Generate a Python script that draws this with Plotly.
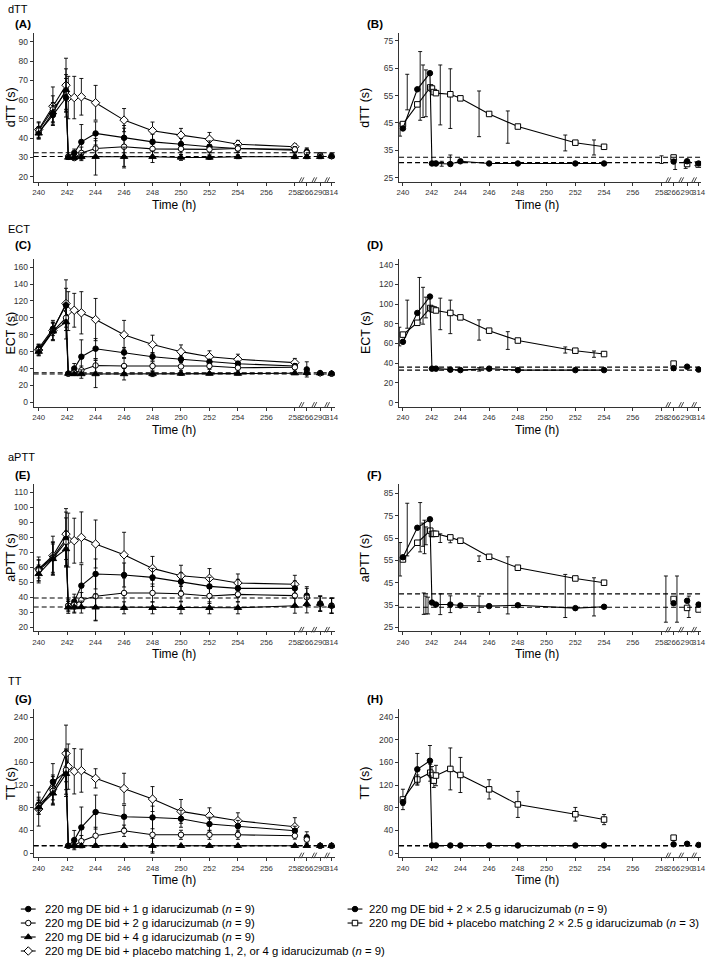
import numpy as np
import plotly.graph_objects as go

W, H = 709, 958

# broken time axis: hours up to 258 are linear, follow-up visits are compressed
tick_hours = [240, 242, 244, 246, 248, 250, 252, 254, 256, 258, 266, 290, 314]
break_hours = [258, 266, 290, 314]
break_pos = [258, 258.84, 259.78, 260.58]
break_marks = [258.4, 259.3, 260.2]

# ---- left panels (1, 2, 4 g idarucizumab and placebo) ----
t_left = [240, 241, 241.92, 242.08, 242.5, 243, 244, 246, 248, 250, 252, 254, 258, 266, 290, 314]

A_pbo = [44.5, 56.6, 67.5, 61.1, 61.1, 61.5, 58.4, 49.4, 43.9, 41.6, 39.5, 36.9, 35.6, None, None, None]
A_pbo_sd = [4, 10, 14, 11, 11, 9.5, 9, 6, 4.5, 3.5, 3.5, 2, 1.5, None, None, None]
A_1g = [43, 52, 61, 30.4, 32.4, 38.1, 42.5, 40.2, 38.1, 36.9, 35.6, 34.7, 33.8, 33, 31.2, 30.7]
A_1g_sd = [3, 5, 10, 1, 2, 9, 6, 5, 4, 3, 3, 2, 1.5, 2, 1, 1]
A_2g = [44, 55, 64, 30.4, 29.7, 32.4, 34.7, 35.6, 34.5, 34.5, 34.2, 34.7, 34.2, 32.5, 31, 30.7]
A_2g_sd = [4, 7, 9, 1, 1, 3, 4, 11, 4, 3, 2.5, 2, 1.5, 2, 1, 1]
A_4g = [42.5, 53.5, 65, 30, 30, 30.4, 30.4, 30.4, 30.4, 30, 30, 30.4, 30.4, 30.4, 30.4, 30.7]
A_4g_sd = [3, 5, 11, 1, 1, 2, 9.5, 5, 3, 1.5, 1, 1, 1, 1, 1, 1]
A_ref = [32.5, 30.5]

C_pbo = [62, 85, 117, 108, 109, 106, 98, 80, 68.5, 60, 54, 51, 47, None, None, None]
C_pbo_sd = [6, 12, 28, 23, 20, 25, 25, 17, 11, 8, 7, 6, 5, None, None, None]
C_1g = [64, 87, 115, 34, 40, 54, 63.5, 59, 54, 51, 48, 45.7, 43, 39, 34.5, 34]
C_1g_sd = [5, 8, 20, 1.5, 6, 20, 12, 6, 5, 4, 3, 3, 3, 9, 2, 1.5]
C_2g = [62, 84, 100, 34, 35, 38, 43.7, 43, 43, 42.5, 43, 41, 41.5, 35, 34.5, 34]
C_2g_sd = [6, 10, 15, 1.5, 2, 5, 8, 9, 5, 5, 4, 4, 3, 2, 1.5, 1.5]
C_4g = [60, 84, 95, 34, 33.5, 33.5, 33.5, 33.5, 33.5, 34, 34, 34, 34.5, 35, 34.5, 34]
C_4g_sd = [5, 10, 20, 1.5, 1.5, 5, 16, 7, 3, 2, 1.5, 1.5, 1.5, 2, 1.5, 1.5]
C_ref = [35, 33.5]

E_pbo = [58.9, 67.8, 82.2, 78.2, 77.8, 80, 75.6, 68.4, 59.3, 54.4, 52.7, 49.6, 48.7, None, None, None]
E_pbo_sd = [8, 13, 17, 18, 15, 17, 16, 15, 8, 7, 6.5, 6, 6, None, None, None]
E_1g = [58.9, 66.7, 78.9, 34.4, 37.1, 47.8, 55.6, 54.9, 53.3, 50.4, 47.3, 46, 46, 41.1, 35.8, 34.4]
E_1g_sd = [6, 10, 18, 3, 5, 14, 10, 8, 6, 6, 6, 6, 5, 6, 5, 5]
E_2g = [58, 66, 77, 34.4, 35.1, 38.2, 40.7, 42.9, 42.9, 42.4, 40.9, 42, 41.1, 40, 35.8, 34.4]
E_2g_sd = [7, 11, 16, 4, 5, 5, 16, 10, 6, 5, 5, 5, 6, 6, 5, 5]
E_4g = [55.6, 65.6, 72.2, 33.3, 33.5, 33.5, 33.3, 33, 33, 33, 33, 33, 34.4, 35.6, 35.8, 34.4]
E_4g_sd = [6, 10, 12, 4, 4, 4, 9, 4, 4, 4, 4, 4, 5, 6, 5, 5]
E_ref = [39.5, 33.5]

G_pbo = [77.8, 113, 176, 152.7, 144.5, 145.6, 132, 114, 95.5, 73.7, 66, 57.2, 46.6, None, None, None]
G_pbo_sd = [30, 25, 50, 40, 40, 38, 17, 27, 22, 21, 14, 14, 16, None, None, None]
G_1g = [85.5, 126, 144, 13, 23, 45.4, 72.5, 64.3, 63, 60.7, 51.3, 47.8, 39.5, 27.7, 13, 13]
G_1g_sd = [10, 32, 40, 1, 17, 36, 30, 20, 20, 15, 12, 10, 8, 10, 1, 1]
G_2g = [83.7, 110, 147, 13, 13, 21.2, 30.7, 39.5, 32.4, 32.4, 32.4, 32.4, 30.7, 24, 13, 13]
G_2g_sd = [15, 25, 35, 1, 1, 10, 15, 10, 30, 8, 8, 8, 6, 8, 1, 1]
G_4g = [80.8, 105.5, 140, 13, 13, 13, 13, 13, 13, 13, 13, 13, 13, 13, 13, 13]
G_4g_sd = [12, 20, 40, 1, 1, 1, 1, 1, 13, 1, 1, 1, 1, 1, 1, 1]
G_ref = [13.5, 12.5]

# ---- right panels (2 x 2.5 g idarucizumab and placebo) ----
t_act = [240, 241, 241.88, 242.02, 242.3, 243.3, 244, 246, 248, 252, 254, 266, 290, 314]
t_pbo = [240, 241, 241.9, 242.02, 242.15, 242.3, 243.3, 244, 246, 248, 252, 254, 266, 290, 314]

B_act = [43.0, 57.3, 63.2, 30.2, 30.2, 30.0, 31.0, 30.2, 30.2, 30.2, 30.2, 30.9, 31.0, 30.2]
B_pbo = [44.6, 51.8, 58.0, 57.6, 56.3, 55.9, 55.5, 54.0, 48.3, 43.7, 37.8, 36.3, 32.4, 30.0, 29.8]
B_err_t = [239.8, 240.3, 241.2, 241.4, 241.6, 242.25, 242.6, 242.7, 243.3, 243.3, 245.3, 247.3,
           251.3, 253.3, 258, 268.8, 287.4, 309.5]
B_err_lo = [40.2, 49.8, 46, 47, 47.3, 29.4, 44.3, 29.2, 43, 29.4, 40, 37.6, 34.8, 33.3, 30.2, 28, 28.4, 29.5]
B_err_hi = [45, 62.8, 71.1, 66.2, 64.4, 31, 66.2, 31, 64.8, 33.3, 56.7, 49.4, 40.6, 38.8, 33, 31.5, 31, 30.8]
B_ref = [32.5, 30.5]

D_act = [61.7, 91.0, 107.6, 34.5, 34.5, 33.4, 33.0, 34.5, 33.0, 33.0, 33.0, 35.0, 36.5, 33.5]
D_pbo = [69.0, 81.0, 96.0, 95.0, 94.5, 93.5, 91.0, 86.5, 73.0, 63.0, 52.7, 49.3, 39.6, None, None]
D_err_t = [239.75, 240.3, 241.15, 241.4, 241.6, 242.3, 242.6, 243.3, 243.3, 245.3, 245.3, 247.3, 251.3, 253.3]
D_err_lo = [57.6, 75.5, 81, 79.6, 86, 33, 74, 70, 32, 63.4, 32, 54, 50.3, 46]
D_err_hi = [76.5, 104, 127, 117, 107, 36, 106, 104, 35, 84, 35.5, 72, 56.5, 52.4]
D_ref = [36, 33]

F_act = [56.4, 69.6, 73.4, 36.1, 35.2, 35.2, 34.8, 34.5, 34.9, 33.6, 34.2, 35.8, 36.9, 35.2]
F_pbo = [55.4, 62.9, 68.3, 66.8, 66.9, 66.9, 65.3, 63.8, 56.6, 51.7, 46.9, 45.0, 37.7, 33.7, 33.0]
F_err_t = [239.8, 240.3, 241.2, 241.4, 241.5, 241.6, 241.45, 241.6, 241.75, 242.6, 242.6, 243.3, 243.3,
           245.3, 245.3, 247.3, 251.3, 253.3, 260.9, 272, 293.6]
F_err_lo = [48, 57, 58.8, 61.3, 58, 62, 30.8, 31, 31, 63, 30.7, 62.9, 31.6, 54.5, 31.7, 31, 29.4, 30.1,
            27.3, 27.3, 29.4]
F_err_hi = [63, 80.6, 80.9, 71.7, 73, 70, 40.4, 39, 38.5, 66.9, 40, 65.3, 39.1, 57, 39, 56.6, 48.7, 47.2,
            48, 48, 39]
F_ref = [40, 34]

H_act = [89.5, 148, 163, 13.6, 13.6, 13.6, 13.6, 13.6, 13.6, 13.6, 13.6, 15.5, 16.5, 14.5]
H_act_sd = [5, 28, 27, 1, 1, 1, 1, 1, 1, 1, 1, 1, 1, 1]
H_pbo = [94.8, 130, 142, 138, 128, 137, 148.7, 138, 112.6, 86, 68.7, 59.3, 27.3, None, None]
H_pbo_sd = [18, 8, 15, 15, 12, 18, 37, 31, 17, 23, 12, 9, 0, None, None]
H_ref = [13.5, 12.5]

legend_names = [
    "220 mg DE bid + 1 g idarucizumab (<i>n</i> = 9)",
    "220 mg DE bid + 2 g idarucizumab (<i>n</i> = 9)",
    "220 mg DE bid + 4 g idarucizumab (<i>n</i> = 9)",
    "220 mg DE bid + placebo matching 1, 2, or 4 g idarucizumab (<i>n</i> = 9)",
    "220 mg DE bid + 2 × 2.5 g idarucizumab (<i>n</i> = 9)",
    "220 mg DE bid + placebo matching 2 × 2.5 g idarucizumab (<i>n</i> = 3)",
]
legend_keys = ["1g", "2g", "4g", "pbo", "act", "pbo2"]

STYLE = {
    "1g": dict(symbol="circle", color="black", size=5.5),
    "2g": dict(symbol="circle", color="white", size=5.5),
    "4g": dict(symbol="triangle-up", color="black", size=6.5),
    "pbo": dict(symbol="diamond", color="white", size=6.5),
    "act": dict(symbol="circle", color="black", size=5.5),
    "pbo2": dict(symbol="square", color="white", size=5.5),
}


def arr(v):
    return np.array([np.nan if e is None else e for e in v], dtype=float)


def axis_pos(hours):
    h = np.asarray(hours, dtype=float)
    return np.where(h <= 258, h, np.interp(h, break_hours, break_pos))


def ax(n, kind):
    return kind if n == 1 else f"{kind}{n}"


def marker(key):
    s = STYLE[key]
    return dict(symbol=s["symbol"], color=s["color"], size=s["size"],
                line=dict(color="black", width=1))


fig = go.Figure()


def add_group(n, t, y, sd, key):
    t = np.asarray(t, dtype=float)
    y = arr(y)
    sd = arr(sd) if sd is not None else None
    ok = ~np.isnan(y)
    for mask, mode in (((t <= 258) & ok, "lines+markers"), ((t > 258) & ok, "markers")):
        if not mask.any():
            continue
        err = None
        if sd is not None:
            err = dict(type="data", array=sd[mask], visible=True, thickness=0.9, width=2, color="black")
        fig.add_trace(go.Scatter(
            x=axis_pos(t[mask]), y=y[mask], mode=mode,
            xaxis=ax(n, "x"), yaxis=ax(n, "y"),
            line=dict(color="black", width=1.1), marker=marker(key),
            error_y=err, showlegend=False, hoverinfo="skip",
        ))


def add_errors(n, t, lo, hi):
    lo, hi = np.asarray(lo, float), np.asarray(hi, float)
    fig.add_trace(go.Scatter(
        x=axis_pos(t), y=(lo + hi) / 2, mode="markers",
        xaxis=ax(n, "x"), yaxis=ax(n, "y"),
        marker=dict(size=1, color="rgba(0,0,0,0)"),
        error_y=dict(type="data", array=(hi - lo) / 2, visible=True, thickness=0.9, width=2, color="black"),
        showlegend=False, hoverinfo="skip",
    ))


# panel n: (letter, group label, side, row, y range, y ticks, y title, ref lines)
panels = [
    ("(A)", "dTT", 0, 0, [17.4, 94.6], list(range(20, 91, 10)), "dTT (s)", A_ref),
    ("(B)", None, 1, 0, [23.5, 77.9], list(range(25, 76, 10)), "dTT (s)", B_ref),
    ("(C)", "ECT", 0, 1, [-5, 170], list(range(0, 161, 20)), "ECT (s)", C_ref),
    ("(D)", None, 1, 1, [-4, 146], list(range(0, 141, 20)), "ECT (s)", D_ref),
    ("(E)", "aPTT", 0, 2, [17.3, 115.3], list(range(20, 111, 10)), "aPTT (s)", E_ref),
    ("(F)", None, 1, 2, [23.2, 89], list(range(25, 86, 10)), "aPTT (s)", F_ref),
    ("(G)", "TT", 0, 3, [-7, 254], list(range(0, 241, 40)), "TT (s)", G_ref),
    ("(H)", None, 1, 3, [-7, 254], list(range(0, 241, 40)), "TT (s)", H_ref),
]

left_groups = [
    [(A_pbo, A_pbo_sd, "pbo"), (A_1g, A_1g_sd, "1g"), (A_2g, A_2g_sd, "2g"), (A_4g, A_4g_sd, "4g")],
    [(C_pbo, C_pbo_sd, "pbo"), (C_1g, C_1g_sd, "1g"), (C_2g, C_2g_sd, "2g"), (C_4g, C_4g_sd, "4g")],
    [(E_pbo, E_pbo_sd, "pbo"), (E_1g, E_1g_sd, "1g"), (E_2g, E_2g_sd, "2g"), (E_4g, E_4g_sd, "4g")],
    [(G_pbo, G_pbo_sd, "pbo"), (G_1g, G_1g_sd, "1g"), (G_2g, G_2g_sd, "2g"), (G_4g, G_4g_sd, "4g")],
]
for i, groups in enumerate(left_groups):
    for y, sd, key in groups:
        add_group(2 * i + 1, t_left, y, sd, key)

add_errors(2, B_err_t, B_err_lo, B_err_hi)
add_group(2, t_pbo, B_pbo, None, "pbo2")
add_group(2, t_act, B_act, None, "act")
add_errors(4, D_err_t, D_err_lo, D_err_hi)
add_group(4, t_pbo, D_pbo, None, "pbo2")
add_group(4, t_act, D_act, None, "act")
add_errors(6, F_err_t, F_err_lo, F_err_hi)
add_group(6, t_pbo, F_pbo, None, "pbo2")
add_group(6, t_act, F_act, None, "act")
add_group(8, t_pbo, H_pbo, H_pbo_sd, "pbo2")
add_group(8, t_act, H_act, H_act_sd, "act")

# layout geometry (pixels)
x_dom_px = [(31, 335), (400, 705)]
x_rng = [[239.65, 260.8], [239.73, 260.75]]
rows_px = [(33, 182), (259, 407), (485, 632), (710, 858)]
group_y = [9, 229, 457, 682]
letter_y = [24, 245, 475, 700]
letter_x = [10, 366]
ytitle_x = [8, 366]
xtitle_x = [173, 539]


def px_x(v):
    return v / W


def px_y(v):
    return 1 - v / H


axis_common = dict(showline=True, linecolor="#333", linewidth=1.2, ticks="outside", ticklen=3,
                   tickwidth=1, tickcolor="#333", showgrid=False, zeroline=False,
                   tickfont=dict(size=8.5, color="#333"), fixedrange=True)

layout = {}
shapes, annotations = [], []
for n, (letter, group, side, row, yr, yt, ytitle, refs) in enumerate(panels, 1):
    top, bot = rows_px[row]
    x0, x1 = x_dom_px[side]
    layout[ax(n, "xaxis")] = dict(domain=[px_x(x0), px_x(x1)], range=x_rng[side], anchor=ax(n, "y"),
                                  tickvals=list(axis_pos(tick_hours)), tickangle=0,
                                  ticktext=[str(h) for h in tick_hours],
                                  **{**axis_common, "tickfont": dict(size=7.8, color="#333")})
    layout[ax(n, "yaxis")] = dict(domain=[px_y(bot), px_y(top)], range=yr, anchor=ax(n, "x"),
                                  tickvals=yt, **axis_common)
    for v in refs:
        shapes.append(dict(type="line", xref=ax(n, "x") + " domain", x0=0, x1=1,
                           yref=ax(n, "y"), y0=v, y1=v,
                           line=dict(color="black", width=1.1, dash="5px,3px")))
    # "//" break marks on the time axis
    for b in break_marks:
        for off in (0.0, 0.16):
            shapes.append(dict(type="line", xref=ax(n, "x"), x0=b - 0.12 + off, x1=b + 0.08 + off,
                               yref=ax(n, "y") + " domain", y0=-0.008, y1=0.03,
                               line=dict(color="#333", width=0.9)))
    annotations.append(dict(xref="paper", yref="paper", x=px_x(letter_x[side]), y=px_y(letter_y[row]),
                            text=f"<b>{letter}</b>", showarrow=False, xanchor="left", yanchor="middle",
                            font=dict(size=11.5, color="black")))
    if group:
        annotations.append(dict(xref="paper", yref="paper", x=px_x(3), y=px_y(group_y[row]),
                                text=group, showarrow=False, xanchor="left", yanchor="middle",
                                font=dict(size=11, color="black")))
    annotations.append(dict(xref="paper", yref="paper", x=px_x(ytitle_x[side]), y=px_y((top + bot) / 2),
                            text=ytitle, textangle=-90, showarrow=False, xanchor="center", yanchor="middle",
                            font=dict(size=12.5, color="black")))
    annotations.append(dict(xref="paper", yref="paper", x=px_x(xtitle_x[side]), y=px_y(bot + 23),
                            text="Time (h)", showarrow=False, xanchor="center", yanchor="middle",
                            font=dict(size=12, color="black")))

# legend strip drawn on its own hidden axes (pixel-like coordinates)
layout["xaxis9"] = dict(domain=[0, 1], range=[0, W], visible=False, fixedrange=True, anchor="y9")
layout["yaxis9"] = dict(domain=[0, 59 / H], range=[3.43, -0.786], visible=False, fixedrange=True, anchor="x9")
key_cols = [(18, 33, 40), (348, 363, 368)]
for i, (name, key) in enumerate(zip(legend_names, legend_keys)):
    col, r = (0, i) if i < 4 else (1, i - 4)
    k0, k1, tx = key_cols[col]
    fig.add_trace(go.Scatter(x=[k0, k1], y=[r, r], mode="lines", xaxis="x9", yaxis="y9",
                             line=dict(color="black", width=1.1), showlegend=False, hoverinfo="skip"))
    fig.add_trace(go.Scatter(x=[(k0 + k1) / 2], y=[r], mode="markers", xaxis="x9", yaxis="y9",
                             marker=marker(key), showlegend=False, hoverinfo="skip"))
    annotations.append(dict(xref="x9", yref="y9", x=tx, y=r, text=name, showarrow=False,
                            xanchor="left", yanchor="middle", font=dict(size=11.3, color="black")))

fig.update_layout(
    width=W, height=H, margin=dict(l=0, r=0, t=0, b=0),
    paper_bgcolor="white", plot_bgcolor="white",
    font=dict(family="Liberation Sans, Arial, sans-serif", color="#222"),
    showlegend=False, shapes=shapes, annotations=annotations, **layout,
)
# the page's default 8px body margin would push the figure off the window
fig.write_html("out.html", config={"displayModeBar": False},
               post_script="document.body.style.margin='0';")
